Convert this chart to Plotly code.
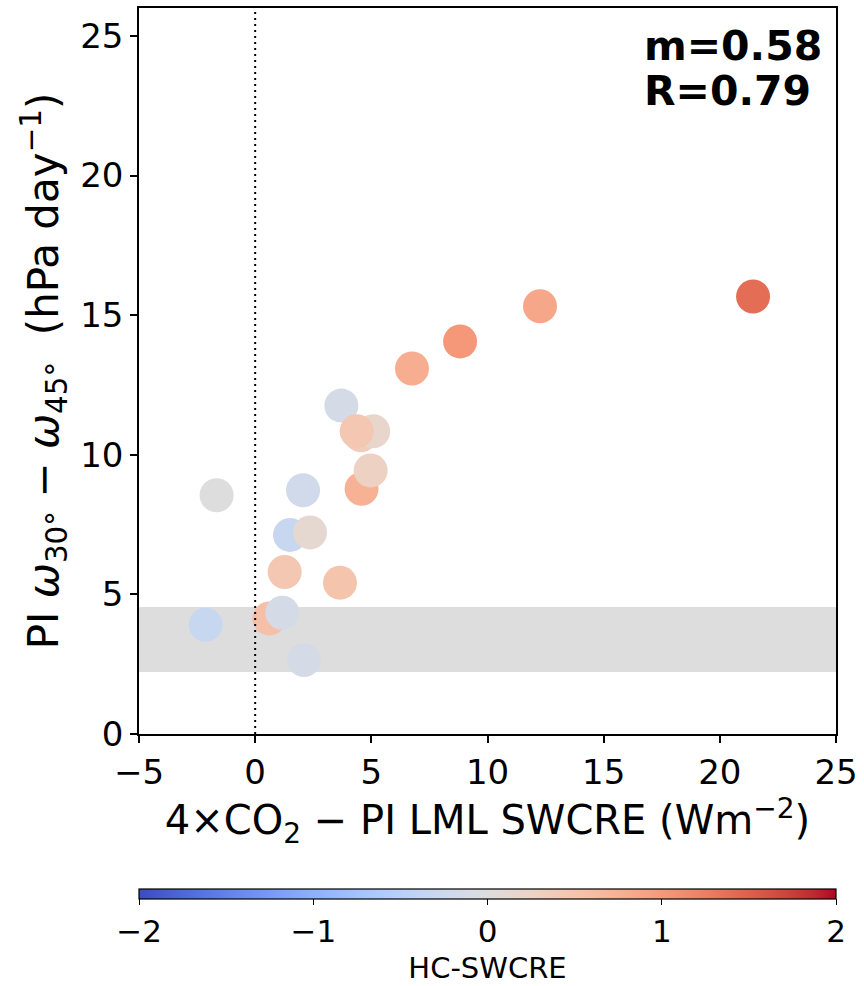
import plotly.graph_objects as go

# Model values: low-level SWCRE change, PI subsidence contrast, high-cloud SWCRE
swcre_change = [-1.66, -2.13, 0.61, 1.17, 2.10, 1.27, 1.50, 2.36, 2.06, 3.65,
                3.71, 4.55, 5.08, 4.37, 4.58, 4.97, 6.75, 8.82, 12.26, 21.43]
omega_diff = [8.55, 3.91, 4.14, 4.34, 2.65, 5.80, 7.13, 7.22, 8.73, 5.42,
              11.76, 10.70, 10.84, 10.84, 8.78, 9.44, 13.09, 14.06, 15.32, 15.67]
hc_swcre = [0.0, -0.3, 0.55, -0.13, -0.12, 0.45, -0.3, 0.13, -0.2, 0.5,
            -0.12, 0.35, 0.17, 0.45, 0.74, 0.28, 0.8, 1.02, 0.86, 1.4]

# Observational range shown as a shaded band
obs_low, obs_high = 2.22, 4.55

x_ticks = [-5, 0, 5, 10, 15, 20, 25]
y_ticks = [0, 5, 10, 15, 20, 25]
cbar_ticks = [-2, -1, 0, 1, 2]

stat_lines = ["m=0.58", "R=0.79"]

coolwarm_rgb = [
    (59, 76, 192), (68, 90, 204), (77, 104, 215), (87, 117, 225), (98, 130, 234),
    (108, 142, 241), (119, 154, 247), (130, 165, 251), (141, 176, 254), (152, 185, 255),
    (163, 194, 255), (174, 201, 253), (184, 208, 249), (194, 213, 244), (204, 217, 238),
    (213, 219, 230), (221, 221, 221), (229, 216, 209), (236, 211, 197), (241, 204, 185),
    (245, 196, 173), (247, 187, 160), (247, 177, 148), (247, 166, 135), (244, 154, 123),
    (241, 141, 111), (236, 127, 99), (229, 112, 88), (222, 96, 77), (213, 80, 66),
    (203, 62, 56), (192, 40, 47), (180, 4, 38),
]
n = len(coolwarm_rgb) - 1
coolwarm = [[i / n, "rgb(%d,%d,%d)" % c] for i, c in enumerate(coolwarm_rgb)]

FONT = "DejaVu Sans"


def minus(v):
    return str(v).replace("-", "\u2212")


fig = go.Figure()

fig.add_trace(go.Scatter(
    x=swcre_change, y=omega_diff, mode="markers",
    marker=dict(
        size=34, color=hc_swcre, colorscale=coolwarm, cmin=-2, cmax=2,
        line=dict(width=0),
        colorbar=dict(
            orientation="h", x=0.5, xanchor="center", y=-0.2135, yanchor="top",
            len=1, lenmode="fraction", thickness=10, xpad=0, ypad=0,
            outlinewidth=1.2, outlinecolor="black",
            tickmode="array", tickvals=cbar_ticks,
            ticktext=[minus(t) for t in cbar_ticks],
            ticks="outside", ticklen=6, tickwidth=1.2, tickcolor="black",
            tickfont=dict(family=FONT, size=31, color="black"),
            title=dict(text="HC-SWCRE", side="bottom",
                       font=dict(family=FONT, size=29, color="black")),
        ),
    ),
    showlegend=False, hoverinfo="skip",
))

# Shaded observational band (below points)
fig.add_shape(type="rect", xref="paper", x0=0, x1=1, yref="y",
              y0=obs_low, y1=obs_high, fillcolor="rgb(221,221,221)",
              line=dict(width=0), layer="below")
# Zero line, dotted, drawn over the markers
fig.add_shape(type="line", xref="x", x0=0, x1=0, yref="paper", y0=0, y1=1,
              line=dict(color="black", width=2, dash="2px,4px"), layer="above")

# Regression statistics, top-right corner
for text, ypos in zip(stat_lines, [0.9477, 0.8857]):
    fig.add_annotation(
        xref="paper", yref="paper", x=0.7217, y=ypos, xanchor="left", yanchor="middle",
        align="left", showarrow=False, text="<b>%s</b>" % text,
        font=dict(family=FONT, size=41, color="black"),
    )

axis_common = dict(
    showline=True, linecolor="black", linewidth=1.5, mirror=True,
    ticks="outside", ticklen=7, tickwidth=1.5, tickcolor="black",
    showgrid=False, zeroline=False,
    tickfont=dict(family=FONT, size=34, color="black"),
)

fig.update_xaxes(
    range=[-5, 25], tickmode="array", tickvals=x_ticks,
    ticktext=[minus(t) for t in x_ticks],
    title=dict(text="4\u00d7CO<sub>2</sub> \u2212 PI LML SWCRE (Wm<sup>\u22122</sup>)",
               font=dict(family=FONT, size=40, color="black"), standoff=6),
    **axis_common,
)
fig.update_yaxes(
    range=[0, 26], tickmode="array", tickvals=y_ticks,
    title=dict(text="PI <i>\u03c9</i><sub>30\u00b0</sub> \u2212 <i>\u03c9</i><sub>45\u00b0</sub>  (hPa day<sup>\u22121</sup>)",
               font=dict(family=FONT, size=42, color="black"), standoff=8),
    **axis_common,
)

fig.update_layout(
    width=864, height=986,
    margin=dict(l=139, r=28, t=8, b=252, autoexpand=False),
    plot_bgcolor="white", paper_bgcolor="white",
    font=dict(family=FONT, color="black"),
)

fig.write_html("out.html")
